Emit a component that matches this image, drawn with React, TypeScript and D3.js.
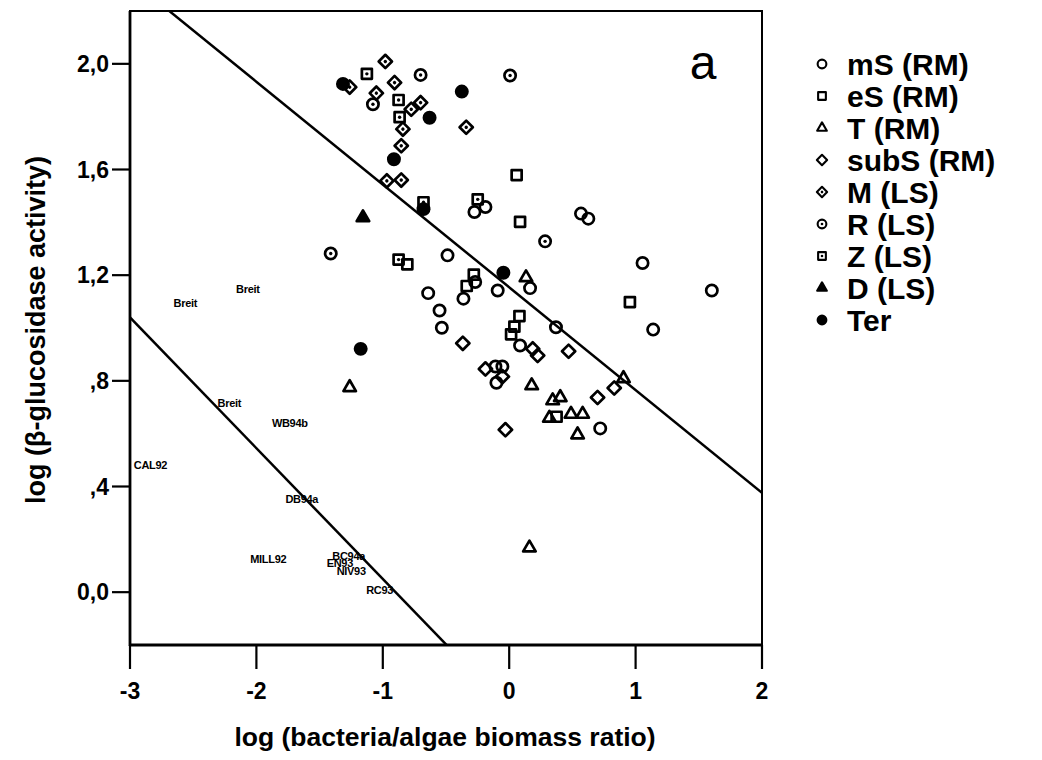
import React from 'react';
import * as d3 from 'd3';

const xTicks = [-3, -2, -1, 0, 1, 2];
const xTickLabels = ['-3', '-2', '-1', '0', '1', '2'];
const yTicks = [0, 0.4, 0.8, 1.2, 1.6, 2.0];
const yTickLabels = ['0,0', ',4', ',8', '1,2', '1,6', '2,0'];

const mS_RM: [number, number][] = [
  [-0.275, 1.439], [-0.188, 1.458], [0.568, 1.433], [0.626, 1.414], [-0.488, 1.275],
  [1.055, 1.246], [1.603, 1.142], [-0.641, 1.132], [-0.269, 1.174], [-0.091, 1.142],
  [0.165, 1.151], [-0.362, 1.111], [-0.551, 1.066], [-0.533, 1.001], [0.37, 1.003],
  [1.139, 0.994], [0.086, 0.934], [-0.109, 0.854], [-0.054, 0.854], [-0.101, 0.793],
  [0.72, 0.62],
];
const eS_RM: [number, number][] = [
  [0.059, 1.579], [0.086, 1.402], [-0.806, 1.241], [-0.28, 1.202], [-0.336, 1.159],
  [0.081, 1.045], [0.041, 1.005], [0.015, 0.976], [0.955, 1.098], [0.375, 0.664],
];
const T_RM: [number, number][] = [
  [-1.262, 0.775], [0.133, 1.191], [0.178, 0.782], [0.344, 0.725], [0.404, 0.737],
  [0.318, 0.659], [0.489, 0.674], [0.581, 0.674], [0.541, 0.596], [0.904, 0.809],
  [0.16, 0.168],
];
const subS_RM: [number, number][] = [
  [-0.367, 0.942], [-0.188, 0.845], [-0.054, 0.816], [-0.03, 0.615], [0.186, 0.921],
  [0.225, 0.896], [0.47, 0.912], [0.699, 0.737], [0.831, 0.773],
];
const M_LS: [number, number][] = [
  [-0.98, 2.009], [-1.262, 1.912], [-0.907, 1.929], [-1.051, 1.889], [-0.701, 1.853],
  [-0.775, 1.828], [-0.841, 1.753], [-0.34, 1.76], [-0.854, 1.69], [-0.968, 1.557],
  [-0.854, 1.56],
];
const R_LS: [number, number][] = [
  [-0.701, 1.958], [0.007, 1.956], [-1.078, 1.847], [-1.412, 1.282], [0.284, 1.328],
];
const Z_LS: [number, number][] = [
  [-1.126, 1.962], [-0.875, 1.863], [-0.867, 1.798], [-0.678, 1.476], [-0.249, 1.487],
  [-0.875, 1.259],
];
const D_LS: [number, number][] = [[-1.157, 1.418]];
const Ter: [number, number][] = [
  [-1.315, 1.924], [-0.375, 1.895], [-0.63, 1.796], [-0.912, 1.639], [-0.046, 1.209],
  [-1.175, 0.921], [-0.678, 1.45],
];

const literatureLabels = [
  { label: 'Breit', x: -2.562, y: 1.093 },
  { label: 'Breit', x: -2.068, y: 1.146 },
  { label: 'Breit', x: -2.214, y: 0.717 },
  { label: 'WB94b', x: -1.736, y: 0.638 },
  { label: 'CAL92', x: -2.838, y: 0.482 },
  { label: 'DB94a', x: -1.641, y: 0.353 },
  { label: 'MILL92', x: -1.906, y: 0.125 },
  { label: 'BC94a', x: -1.27, y: 0.137 },
  { label: 'EN93', x: -1.34, y: 0.11 },
  { label: 'NIV93', x: -1.25, y: 0.078 },
  { label: 'RC93', x: -1.025, y: 0.008 },
];

const upperLine = { intercept: 1.154, slope: -0.389 };
const lowerLine = { intercept: -0.445, slope: -0.495 };

type Shape = 'circle' | 'square' | 'triangle' | 'diamond';
type Variant = 'open' | 'dot' | 'filled';

const series: { name: string; data: [number, number][]; shape: Shape; variant: Variant }[] = [
  { name: 'mS (RM)', data: mS_RM, shape: 'circle', variant: 'open' },
  { name: 'eS (RM)', data: eS_RM, shape: 'square', variant: 'open' },
  { name: 'T (RM)', data: T_RM, shape: 'triangle', variant: 'open' },
  { name: 'subS (RM)', data: subS_RM, shape: 'diamond', variant: 'open' },
  { name: 'M (LS)', data: M_LS, shape: 'diamond', variant: 'dot' },
  { name: 'R (LS)', data: R_LS, shape: 'circle', variant: 'dot' },
  { name: 'Z (LS)', data: Z_LS, shape: 'square', variant: 'dot' },
  { name: 'D (LS)', data: D_LS, shape: 'triangle', variant: 'filled' },
  { name: 'Ter', data: Ter, shape: 'circle', variant: 'filled' },
];

const W = 1042;
const H = 760;
const m = { left: 130, right: 762, top: 11, bottom: 645 };
const FONT = "'Liberation Sans', Arial, Helvetica, sans-serif";

const x = d3.scaleLinear().domain([-3, 2]).range([m.left, m.right]);
const y = d3.scaleLinear().domain([-0.2, 2.2]).range([m.bottom, m.top]);

function symbolPath(shape: Shape, k: number): { d: string; rotate: number } {
  if (shape === 'circle') return { d: d3.symbol().type(d3.symbolCircle).size(100 * k)() as string, rotate: 0 };
  if (shape === 'square') return { d: d3.symbol().type(d3.symbolSquare).size(100 * k)() as string, rotate: 0 };
  if (shape === 'triangle') return { d: d3.symbol().type(d3.symbolTriangle).size(68 * k)() as string, rotate: 0 };
  return { d: d3.symbol().type(d3.symbolSquare).size(88 * k)() as string, rotate: 45 };
}

function Marker({ cx, cy, shape, variant, k = 1 }: { cx: number; cy: number; shape: Shape; variant: Variant; k?: number }) {
  const { d, rotate } = symbolPath(shape, k);
  const sw = 2.7 * Math.sqrt(k);
  return (
    <g transform={`translate(${cx},${cy}) rotate(${rotate})`}>
      <path d={d} fill={variant === 'filled' ? '#000' : 'none'} stroke="#000" strokeWidth={sw} strokeLinejoin="round" />
      {variant === 'dot' && <circle r={1.7 * Math.sqrt(k)} fill="#000" />}
    </g>
  );
}

function regLine(l: { intercept: number; slope: number }) {
  const gen = d3.line<number>().x((v) => x(v)).y((v) => y(l.intercept + l.slope * v));
  return gen(x.domain()) as string;
}

export default function App() {
  const legendX = 822;
  const legendTextX = 847;
  const legendY0 = 64;
  const legendDy = 32;
  return (
    <svg width={W} height={H} style={{ position: 'absolute', left: 0, top: 0, background: '#fff' }} fontFamily={FONT}>
      <rect width={W} height={H} fill="#fff" />
      <defs>
        <clipPath id="plotClip">
          <rect x={m.left} y={m.top} width={m.right - m.left} height={m.bottom - m.top} />
        </clipPath>
      </defs>
      {/* frame */}
      <rect x={m.left} y={m.top} width={m.right - m.left} height={m.bottom - m.top} fill="none" stroke="#000" strokeWidth={2} />
      <line x1={m.left} x2={m.left} y1={m.top} y2={m.bottom + 1} stroke="#000" strokeWidth={2.8} />
      <line x1={m.left - 1} x2={m.right + 1} y1={m.bottom} y2={m.bottom} stroke="#000" strokeWidth={2.8} />
      {/* y ticks */}
      {yTicks.map((t, i) => (
        <g key={'yt' + i}>
          <line x1={m.left - 18} x2={m.left} y1={y(t)} y2={y(t)} stroke="#000" strokeWidth={2.2} />
          <text x={m.left - 21} y={y(t)} dy="0.36em" textAnchor="end" fontSize={23} fontWeight="bold">{yTickLabels[i]}</text>
        </g>
      ))}
      {/* x ticks */}
      {xTicks.map((t, i) => (
        <g key={'xt' + i}>
          <line x1={x(t)} x2={x(t)} y1={m.bottom} y2={m.bottom + 24} stroke="#000" strokeWidth={2.2} />
          <text x={x(t)} y={699} textAnchor="middle" fontSize={23} fontWeight="bold">{xTickLabels[i]}</text>
        </g>
      ))}
      {/* axis titles */}
      <text x={445} y={746} textAnchor="middle" fontSize={26.5} fontWeight="bold">log (bacteria/algae biomass ratio)</text>
      <text transform={`translate(45,${330}) rotate(-90)`} textAnchor="middle" fontSize={27} fontWeight="bold">log (β-glucosidase activity)</text>
      {/* regression lines */}
      <g clipPath="url(#plotClip)">
        <path d={regLine(upperLine)} stroke="#000" strokeWidth={2.5} fill="none" />
        <path d={regLine(lowerLine)} stroke="#000" strokeWidth={2.5} fill="none" />
      </g>
      {/* literature labels */}
      {literatureLabels.map((l, i) => (
        <text key={'lit' + i} x={x(l.x)} y={y(l.y)} dy="0.35em" textAnchor="middle" fontSize={11} fontWeight="bold" letterSpacing={-0.3}>{l.label}</text>
      ))}
      {/* points */}
      {series.map((s) =>
        s.data.map((p, i) => (
          <Marker key={s.name + i} cx={x(p[0])} cy={y(p[1])} shape={s.shape} variant={s.variant} />
        ))
      )}
      {/* panel letter */}
      <text x={703} y={79} textAnchor="middle" fontSize={48}>a</text>
      {/* legend */}
      {series.map((s, i) => (
        <g key={'lg' + i}>
          <Marker cx={legendX} cy={legendY0 + i * legendDy} shape={s.shape} variant={s.variant} k={0.6} />
          <text x={legendTextX} y={legendY0 + i * legendDy} dy="0.36em" fontSize={30} fontWeight="bold">{s.name}</text>
        </g>
      ))}
    </svg>
  );
}
